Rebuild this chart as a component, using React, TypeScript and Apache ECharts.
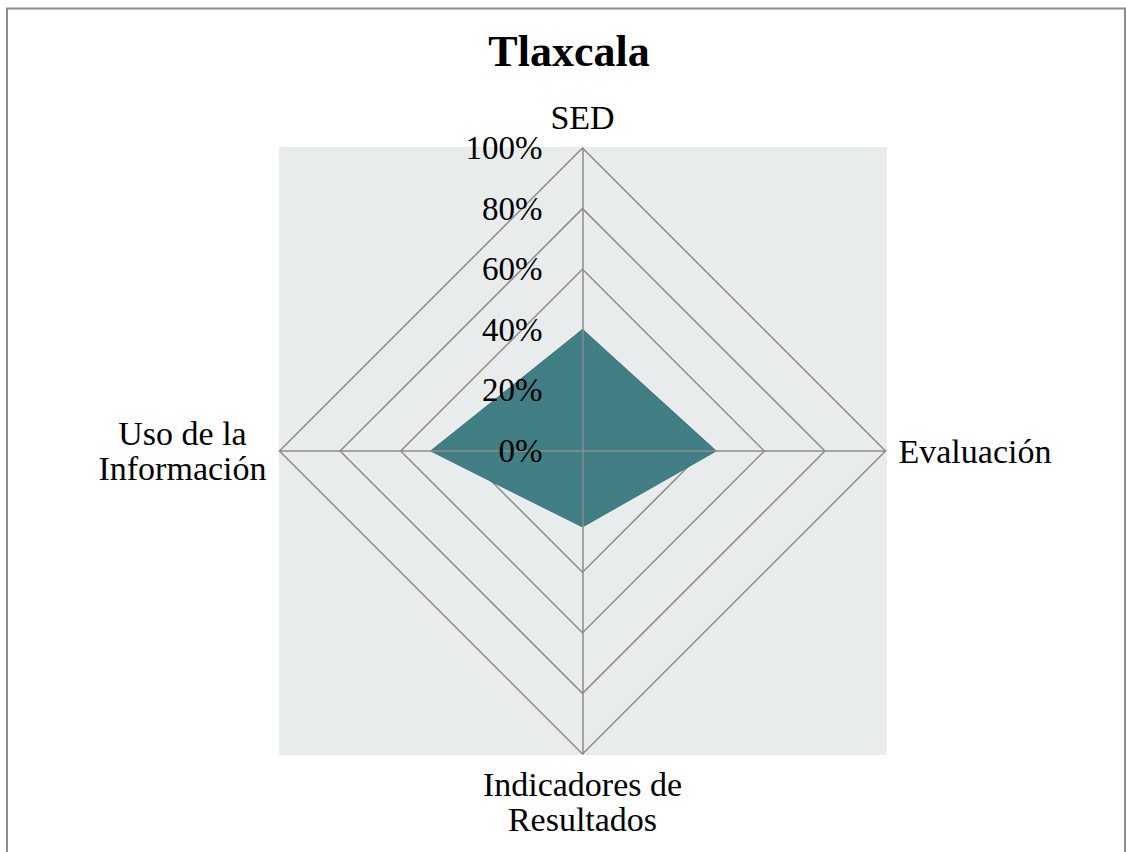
import React, { useEffect, useRef } from "react";
import * as echarts from "echarts";

const titleText = "Tlaxcala";
// ECharts places indicators counter-clockwise from the top
const indicatorNames = ["SED", "Uso de la\nInformación", "Indicadores de\nResultados", "Evaluación"];
const seriesValues = [40, 50, 25, 44];
const axisMax = 100;
const axisInterval = 20;

const CX = 582.5;
const CY = 451;
const R = 303;

export default function App() {
  const ref = useRef<HTMLDivElement>(null);
  useEffect(() => {
    if (!ref.current) return;
    const chart = echarts.init(ref.current, undefined, { renderer: "svg" });
    const serif = "Liberation Serif";
    const base = {
      center: [CX, CY],
      radius: R,
      shape: "polygon",
      startAngle: 90,
      splitNumber: axisMax / axisInterval,
      axisTick: { show: false },
      splitArea: { show: false },
    };
    chart.setOption({
      animation: false,
      backgroundColor: "#ffffff",
      title: {
        text: titleText,
        left: 564,
        top: 24,
        textAlign: "center",
        textStyle: { fontFamily: serif, fontWeight: "bold", fontSize: 44, color: "#000" },
      },
      graphic: [
        {
          type: "rect",
          shape: { x: 7, y: 8.5, width: 1118, height: 900 },
          style: { fill: "none", stroke: "#8c8c8c", lineWidth: 2 },
          z: 0,
        },
        {
          type: "rect",
          shape: { x: CX - R - 0.5, y: CY - R - 1, width: 2 * R + 2, height: 2 * R + 2 },
          style: { fill: "#e8ecec" },
          z: -1,
        },
      ],
      radar: [
        {
          ...base,
          z: 1,
          indicator: indicatorNames.map((n) => ({ name: n, min: 0, max: axisMax })),
          axisName: { show: false },
          axisLine: { show: false },
          splitLine: { lineStyle: { color: "#8c8c8c", width: 1.5 } },
          axisLabel: { show: false },
        },
        {
          ...base,
          z: 3,
          indicator: indicatorNames.map((n, i) => ({
            name: n,
            min: 0,
            max: axisMax,
            ...(i === 0
              ? {
                  axisLabel: {
                    show: true,
                    formatter: "{value}%",
                    fontFamily: serif,
                    fontSize: 33,
                    color: "#000",
                    margin: 40,
                  },
                }
              : {}),
          })),
          axisName: {
            color: "#000",
            fontFamily: serif,
            fontSize: 34,
            lineHeight: 35,
            formatter: (name: string) =>
              name
                .split("\n")
                .map((l) => "{c|" + l + "}")
                .join("\n"),
            rich: {
              c: { align: "center", fontFamily: serif, fontSize: 34, lineHeight: 35, color: "#000" },
            },
          },
          nameGap: 13,
          axisLine: { lineStyle: { color: "#8c8c8c", width: 1.5 } },
          splitLine: { show: false },
          axisLabel: { show: false },
        },
      ],
      series: [
        {
          type: "radar",
          radarIndex: 0,
          z: 2,
          symbol: "none",
          data: [
            {
              value: seriesValues,
              lineStyle: { color: "#2f6b70", width: 1.2 },
              areaStyle: { color: "#417f84", opacity: 1 },
            },
          ],
        },
      ],
    });
    return () => chart.dispose();
  }, []);
  return (
    <div
      ref={ref}
      style={{ position: "fixed", left: 0, top: 0, width: 1126, height: 852 }}
    />
  );
}
